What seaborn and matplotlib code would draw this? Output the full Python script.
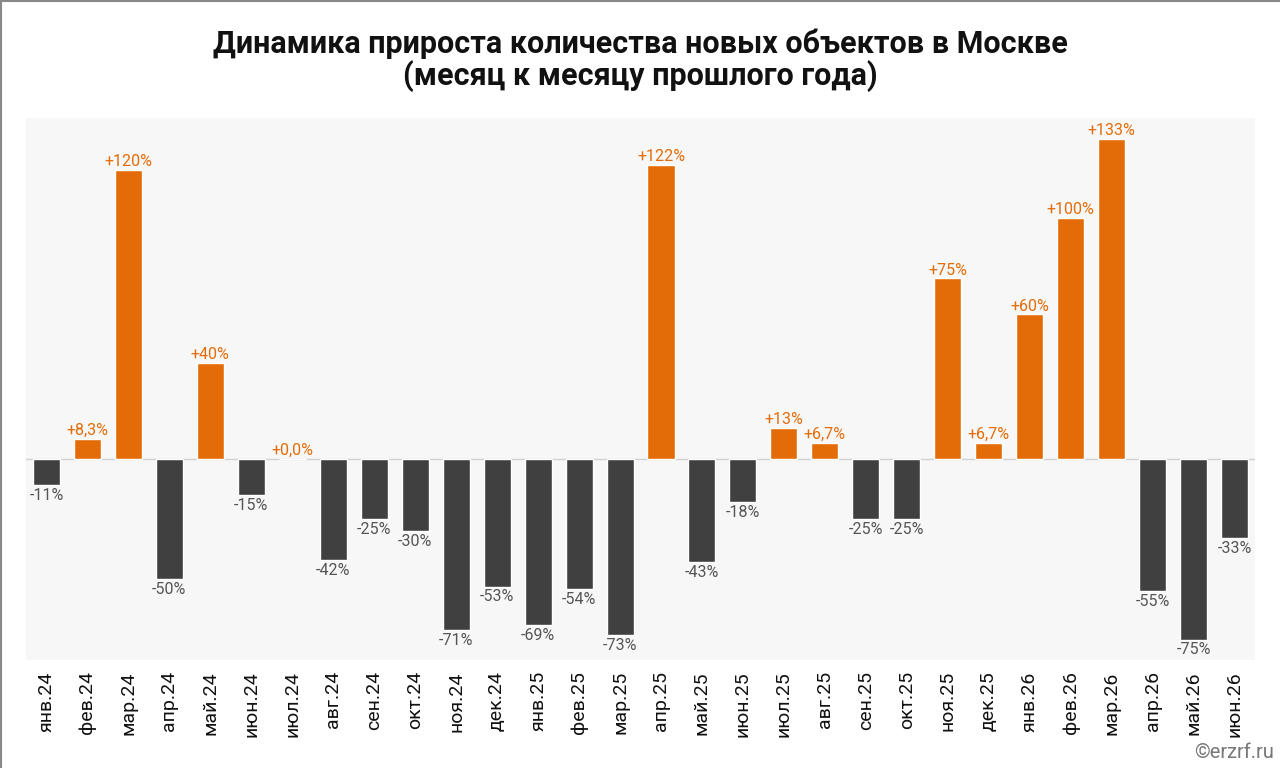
import matplotlib
matplotlib.use("Agg")
import pandas as pd
import seaborn as sns
from matplotlib import pyplot as plt
from matplotlib.lines import Line2D

MONTHS = [
    "янв.24", "фев.24", "мар.24", "апр.24", "май.24", "июн.24", "июл.24",
    "авг.24", "сен.24", "окт.24", "ноя.24", "дек.24", "янв.25", "фев.25",
    "мар.25", "апр.25", "май.25", "июн.25", "июл.25", "авг.25", "сен.25",
    "окт.25", "ноя.25", "дек.25", "янв.26", "фев.26", "мар.26", "апр.26",
    "май.26", "июн.26",
]
GROWTH = [
    -11, 8.3, 120, -50, 40, -15, 0.0,
    -42, -25, -30, -71, -53, -69, -54,
    -73, 122, -43, -18, 13, 6.7, -25,
    -25, 75, 6.7, 60, 100, 133, -55,
    -75, -33,
]

ORANGE = "#e36c09"
DARK = "#404040"
TEXT_NEG = "#555555"


def fmt(v: float) -> str:
    sign = "+" if v >= 0 else "-"
    a = abs(v)
    if a < 10:
        s = f"{a:.1f}".replace(".", ",")
    else:
        s = f"{a:.0f}"
    return f"{sign}{s}%"


df = pd.DataFrame({"month": MONTHS, "growth": GROWTH})
df["sign"] = ["pos" if v >= 0 else "neg" for v in df["growth"]]

sns.set_theme(style="white")
plt.rcParams["font.family"] = ["Roboto", "DejaVu Sans"]

fig = plt.figure(figsize=(12.8, 7.68), dpi=100)
ax = fig.add_axes([0.0203, 0.1406, 0.9602, 0.7058])
ax.set_facecolor("#f7f7f7")

sns.barplot(
    data=df, x="month", y="growth", hue="sign",
    palette={"pos": ORANGE, "neg": DARK},
    dodge=False, width=0.66, legend=False, saturation=1, ax=ax,
)
ax.axhline(0, color="#d0d0d0", lw=1, zorder=0)

for i, v in enumerate(GROWTH):
    if v >= 0:
        ax.annotate(fmt(v), (i, v), xytext=(0, 0.5), textcoords="offset points",
                    ha="center", va="bottom", fontsize=11.5, color=ORANGE)
    else:
        ax.annotate(fmt(v), (i, v), xytext=(0, -2), textcoords="offset points",
                    ha="center", va="top", fontsize=11.5, color=TEXT_NEG)

ax.set_xlim(-0.5, len(MONTHS) - 0.5)
ax.set_ylim(-83.5, 141.6)
ax.set_yticks([])
ax.set_xlabel("")
ax.set_ylabel("")
ax.tick_params(axis="x", length=0, pad=8, labelsize=14, labelcolor="#111111")
plt.setp(ax.get_xticklabels(), rotation=90)
for s in ax.spines.values():
    s.set_visible(False)

fig.text(0.5, 0.922, "Динамика прироста количества новых объектов в Москве\n(месяц к месяцу прошлого года)",
         ha="center", va="center", fontsize=22, fontweight="bold", color="#111111",
         linespacing=1.05)
fig.text(0.995, 0.008, "©erzrf.ru", ha="right", va="bottom", fontsize=14.5, color="#777777")

fig.add_artist(Line2D([0.0008, 0.0008], [0, 1], transform=fig.transFigure, color="#888888", lw=1.5))
fig.add_artist(Line2D([0, 1], [0.9993, 0.9993], transform=fig.transFigure, color="#888888", lw=1.5))

fig.savefig("out.png", dpi=100)
